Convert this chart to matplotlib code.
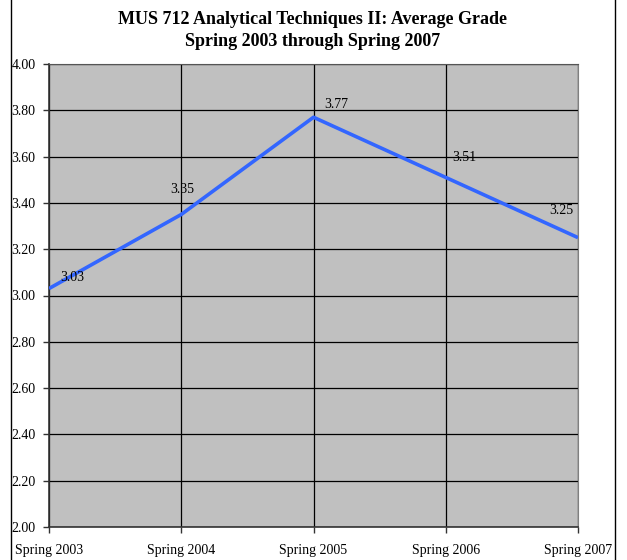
import matplotlib
matplotlib.use("Agg")
import matplotlib.pyplot as plt
from matplotlib.patches import Rectangle

terms = ["Spring 2003", "Spring 2004", "Spring 2005", "Spring 2006", "Spring 2007"]
avg_grade = [3.03, 3.35, 3.77, 3.51, 3.25]
y_ticks = [2.0, 2.2, 2.4, 2.6, 2.8, 3.0, 3.2, 3.4, 3.6, 3.8, 4.0]
# label offsets in pixels (dx, dy) from each point, as placed in the original
label_offsets = [(23, 11), (1, 25), (23, 13), (19, 20), (-17, 27)]

plt.rcParams['font.family'] = ['Liberation Serif', 'DejaVu Serif']

fig = plt.figure(figsize=(6.27, 5.6), dpi=100)
fig.patches.append(Rectangle((11 / 627, -0.01), 604 / 627, 1.02, transform=fig.transFigure,
                             fill=False, edgecolor='black', linewidth=1.0))

ax = fig.add_axes([49 / 627, 1 - 527 / 560, 529 / 627, 463 / 560])
ax.set_facecolor('#c0c0c0')
x = list(range(len(terms)))
ax.plot(x, avg_grade, color='#3366ff', linewidth=2.6, zorder=3, solid_capstyle='butt')

for xi, v, (dx, dy) in zip(x, avg_grade, label_offsets):
    ax.annotate(f"{v:.2f}", (xi, v), xytext=(dx * 0.72, dy * 0.72), textcoords='offset points',
                ha='center', va='center', fontsize=10, color='black', zorder=4)

ax.set_xlim(0, len(terms) - 1)
ax.set_ylim(2.0, 4.0)
ax.set_yticks(y_ticks)
ax.set_yticklabels([f"{t:.2f}" for t in y_ticks], fontsize=10)
ax.set_xticks(x)
ax.set_xticklabels(terms, fontsize=10)
ax.tick_params(axis='y', length=4, width=1, pad=23, color='#333333')
for lab in ax.get_yticklabels():
    lab.set_horizontalalignment('left')
ax.tick_params(axis='x', length=4, width=1, pad=8, color='#333333')

ax.grid(True, color='black', linewidth=0.9)
ax.set_axisbelow(True)
for side in ['left', 'bottom']:
    ax.spines[side].set_color('#333333')
    ax.spines[side].set_linewidth(1.2)
ax.spines['top'].set_color('#555555')
ax.spines['right'].set_color('#808080')

fig.text(313 / 627, 1 - 20 / 560, "MUS 712 Analytical Techniques II: Average Grade",
         ha='center', va='center', fontsize=13, fontweight='bold')
fig.text(313 / 627, 1 - 42 / 560, "Spring 2003 through Spring 2007",
         ha='center', va='center', fontsize=13, fontweight='bold')

fig.savefig("out.png", dpi=100)
